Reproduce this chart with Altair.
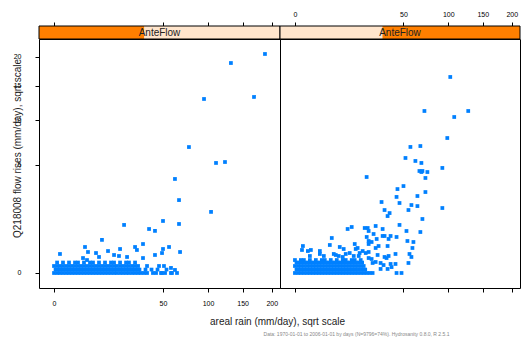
import altair as alt
import pandas as pd

FONT = "Liberation Sans"
BLUE = "#0080ff"

# axis ticks (sqrt scales)
x_ticks = [0, 50, 100, 150, 200]
y_ticks = [0, 5, 10, 15, 20]
X_DOMAIN = [-0.95, 215.4]
Y_DOMAIN = [-0.0965, 23.47]

# shingle intervals of AnteFlow (fraction of its range) for the two panels
strip_lo = [0.0, 0.427]
strip_hi = [0.436, 1.0]

# ---------------- left panel (low AnteFlow) ----------------
left_rain = [187.7, 132.0, 168.7, 94.9, 76.8, 123.3, 110.7, 61.7, 104.0, 65.9,
             50.1, 65.9, 20.7, 38.1, 43.0, 9.7, 33.4, 55.8, 4.05, 27.7,
             50.1, 12.3, 29.0, 67.0, 4.87, 7.44, 18.4, 49.2, 15.2, 43.0,
             0.15, 8.54, 17.8, 22.5, 33.4, 3.55, 4.59, 51.0, 57.7, 58.7,
             48.3, 61.7]
left_flow = [20.56, 18.9, 13.28, 12.98, 6.8, 5.28, 5.19, 3.79, 1.6, 2.28,
             1.16, 1.03, 0.99, 0.83, 0.76, 0.47, 0.36, 0.29, 0.29, 0.29,
             0.247, 0.207, 0.227, 0.189, 0.189, 0.171, 0.247, 0.171, 0.139, 0.139,
             0.155, 0.11, 0.124, 0.11, 0.096, 0.096, 0.072, 0.021, 0.011, 0.0,
             0.0, 0.004]
left_band = {
    0.0: [0, 0.04, 0.15, 0.34, 0.61, 0.95, 1.37, 1.86, 2.43, 3.07, 3.79, 4.59,
          5.46, 6.41, 7.44, 8.54, 9.72, 10.97, 12.3, 13.7, 15.2, 16.7, 18.4,
          20.1, 21.9, 23.7, 25.7, 27.7, 29.8, 31.9, 34.2, 36.5, 41.3, 43.9,
          49.2, 52.0, 57.7, 63.8],
    0.005: [0.01, 0.085, 0.24, 0.46, 0.77, 1.15, 1.6, 2.13, 2.74, 3.42, 4.18,
            5.02, 5.93, 6.92, 7.98, 9.12, 10.3, 11.6, 13.0, 14.4, 15.9, 17.5,
            19.2, 21.0, 22.8, 24.7, 26.6, 28.7, 30.8, 35.3, 40.1, 45.2, 53.4],
    0.021: [0, 0.04, 0.15, 0.34, 0.61, 0.95, 1.37, 1.86, 2.43, 3.07, 3.79,
            4.59, 5.46, 6.41, 7.44, 8.54, 9.72, 10.97, 12.3, 13.7, 15.2, 16.7,
            18.4, 20.1, 21.9, 23.7, 25.7, 27.7, 29.8, 36.5, 46.5],
    0.047: [0.04, 0.34, 0.95, 1.86, 2.43, 3.79, 5.46, 6.41, 8.54, 10.97, 13.7,
            15.2, 18.4, 21.9, 23.7, 27.7],
}

# ---------------- right panel (high AnteFlow) ----------------
right_rain = [102.6, 71.3, 127.7, 107.9, 98.7, 56.7, 66.9, 51.95, 61.7, 68.0,
              92.4, 65.9, 69.1, 68.0, 74.6, 72.4, 21.86, 50.1, 44.7, 43.9,
              63.8, 72.4, 31.9, 46.5, 57.7, 63.8, 92.4, 34.15, 54.8, 38.1,
              36.5, 69.1, 46.5, 27.7, 13.7, 11.8, 20.7, 22.5, 32.7, 23.1,
              52.9, 66.9, 26.3, 32.7, 34.15, 38.9, 21.9, 28.4, 43.9, 5.77,
              37.3, 53.8, 59.7, 23.1, 25.0, 15.2, 23.1, 5.17, 29.75, 36.5,
              0.27, 58.7, 16.7, 8.54, 27.7, 10.1, 15.7, 0.21, 1.08, 0.71,
              2.64, 19.5, 21.3, 23.1, 43.0, 55.8, 6.41, 7.09, 10.97, 12.75,
              17.8, 2.64, 29.05, 37.3, 57.7, 0.95, 3.55, 8.16, 9.72, 14.7,
              17.3, 23.1, 25.0, 34.15, 35.7, 54.8, 43.0, 38.9, 31.2, 27.7,
              25.65, 33.4, 39.7, 31.2, 36.5, 25.65, 43.9, 48.3]
right_flow = [16.47, 11.25, 11.25, 10.43, 7.81, 6.81, 6.91, 5.67, 5.38, 5.19,
              4.73, 4.46, 4.46, 4.37, 4.37, 3.87, 3.95, 3.24, 3.02, 2.48,
              2.54, 2.81, 2.16, 2.10, 1.98, 1.92, 1.81, 1.70, 1.70, 1.54,
              1.39, 1.25, 0.99, 0.947, 0.907, 0.83, 0.868, 0.868, 0.83, 0.756,
              0.756, 0.72, 0.652, 0.587, 0.587, 0.587, 0.556, 0.496, 0.556, 0.525,
              0.496, 0.439, 0.412, 0.439, 0.412, 0.36, 0.36, 0.336, 0.312, 0.312,
              0.312, 0.268, 0.268, 0.29, 0.268, 0.247, 0.247, 0.227, 0.227, 0.207,
              0.207, 0.207, 0.171, 0.189, 0.155, 0.155, 0.155, 0.139, 0.155, 0.171,
              0.171, 0.155, 0.139, 0.124, 0.11, 0.124, 0.124, 0.124, 0.11, 0.124,
              0.124, 0.096, 0.084, 0.11, 0.096, 0.043, 0.035, 0.035, 0.043, 0.052,
              0.043, 0.027, 0.015, 0.007, 0.007, 0.0, 0.0, 0.0]
right_band = {
    0.0: [0, 0.04, 0.15, 0.34, 0.61, 0.95, 1.37, 1.86, 2.43, 3.07, 3.79, 4.59,
          5.46, 6.41, 7.44, 8.54, 9.72, 10.97, 12.3, 13.7, 15.2, 16.7, 18.4,
          20.1, 21.9, 23.7],
    0.005: [0.01, 0.085, 0.24, 0.46, 0.77, 1.15, 1.6, 2.13, 2.74, 3.42, 4.18,
            5.02, 5.93, 6.92, 7.98, 9.12, 10.3, 11.6, 13.0, 14.4, 15.9, 17.5,
            19.2, 21.0],
    0.021: [0, 0.04, 0.15, 0.34, 0.61, 0.95, 1.37, 1.86, 2.43, 3.07, 3.79, 4.59,
            5.46, 6.41, 7.44, 8.54, 9.72, 10.97, 12.3, 13.7, 15.2, 16.7, 18.4,
            20.1],
    0.047: [0.01, 0.085, 0.24, 0.46, 0.77, 1.15, 1.6, 2.13, 2.74, 3.42, 4.18,
            5.02, 5.93, 6.92, 7.98, 9.12, 10.3, 11.6, 13.0, 14.4, 15.9, 17.5,
            19.2],
    0.072: [0, 0.15, 0.34, 0.95, 1.86, 3.07, 3.79, 5.46, 7.44, 9.72, 10.97,
            13.7, 15.2, 18.4],
}

Y_TITLE = "Q218008 flow rises (mm/day), sqrt scale"
X_TITLE = "areal rain (mm/day), sqrt scale"
FOOTER = "Data: 1970-01-01 to 2006-01-01 by days (N=9796=74%). Hydrosanity 0.8.0, R 2.5.1"


def build_df(rain, flow, band):
    rows = [{"rain": r, "flow": f} for r, f in zip(rain, flow)]
    for f, rs in band.items():
        rows += [{"rain": r, "flow": f} for r in rs]
    return pd.DataFrame(rows)


xs = alt.Scale(type="sqrt", domain=X_DOMAIN, nice=False, zero=False)
ys = alt.Scale(type="sqrt", domain=Y_DOMAIN, nice=False, zero=False)
frac = alt.Scale(domain=[0, 1], nice=False, zero=False)
tick_df = pd.DataFrame({"v": x_ticks})


def panel(df, i, width, left):
    strip_df = pd.DataFrame({"lo": [0.0], "hi": [1.0], "mid": [0.5], "label": ["AnteFlow"]})
    lvl_df = pd.DataFrame({"lo": [strip_lo[i]], "hi": [strip_hi[i]]})

    bg = alt.Chart(strip_df).mark_rect(fill="#ffe5cc", strokeWidth=0).encode(
        x=alt.X("lo:Q", scale=frac, axis=None), x2="hi:Q",
        y=alt.value(-13), y2=alt.value(0))
    lvl = alt.Chart(lvl_df).mark_rect(fill="#ff7f00", strokeWidth=0).encode(
        x=alt.X("lo:Q", scale=frac, axis=None), x2="hi:Q",
        y=alt.value(-13), y2=alt.value(0))
    border = alt.Chart(strip_df).mark_rect(fillOpacity=0, stroke="black", strokeWidth=1).encode(
        x=alt.X("lo:Q", scale=frac, axis=None), x2="hi:Q",
        y=alt.value(-13), y2=alt.value(0))
    txt = alt.Chart(strip_df).mark_text(fontSize=10, font=FONT, color="#222",
                                        baseline="middle").encode(
        x=alt.X("mid:Q", scale=frac, axis=None), y=alt.value(-6.5), text="label:N")

    top = alt.Chart(tick_df).mark_tick(opacity=0).encode(
        x=alt.X("v:Q", scale=xs, axis=alt.Axis(
            orient="top", values=x_ticks, labels=not left, offset=13, tickSize=4,
            labelPadding=5, labelFontSize=7, domain=False, grid=False, title=None,
            tickColor="black", labelColor="black", labelFont=FONT)))

    if left:
        xaxis = alt.Axis(orient="bottom", values=x_ticks, labels=True, tickSize=4,
                         labelPadding=7, labelFontSize=7, domain=False, grid=False,
                         tickColor="black", labelColor="black", labelFont=FONT,
                         title=X_TITLE, titleFont=FONT, titleFontSize=10,
                         titleFontWeight="normal", titleColor="#222",
                         titleX=238, titleY=33, titleAlign="center",
                         titleBaseline="middle")
        yaxis = alt.Axis(orient="left", values=y_ticks, tickSize=4, labelPadding=14,
                         labelFontSize=7, domain=False, grid=False, tickColor="black",
                         labelColor="black", labelFont=FONT,
                         title=Y_TITLE, titleFont=FONT, titleFontSize=10,
                         titleFontWeight="normal", titleColor="#222",
                         titleX=-22, titleY=109, titleAngle=-90, titleAlign="center",
                         titleBaseline="middle")
    else:
        xaxis = alt.Axis(orient="bottom", values=x_ticks, labels=False, tickSize=4,
                         domain=False, grid=False, tickColor="black",
                         title=FOOTER, titleFont=FONT, titleFontSize=5,
                         titleFontWeight="normal", titleColor="#888",
                         titleX=76, titleY=45, titleAlign="center",
                         titleBaseline="middle")
        yaxis = None

    pts = alt.Chart(df).mark_square(size=14, color=BLUE, opacity=1, strokeWidth=0).encode(
        x=alt.X("rain:Q", scale=xs, axis=xaxis),
        y=alt.Y("flow:Q", scale=ys, axis=yaxis))

    return alt.layer(bg, lvl, border, txt, top, pts).resolve_scale(
        x="independent").properties(width=width, height=249)


left_df = build_df(left_rain, left_flow, left_band)
right_df = build_df(right_rain, right_flow, right_band)

chart = alt.hconcat(
    panel(left_df, 0, 241, True),
    panel(right_df, 1, 240, False),
    spacing=0, bounds="flush",
).properties(
    padding={"left": 11, "top": 9, "right": 0, "bottom": 0},
    background="white",
).configure_view(stroke="black", strokeWidth=1)

chart.save("out.html", embed_options={"renderer": "svg", "actions": False})
